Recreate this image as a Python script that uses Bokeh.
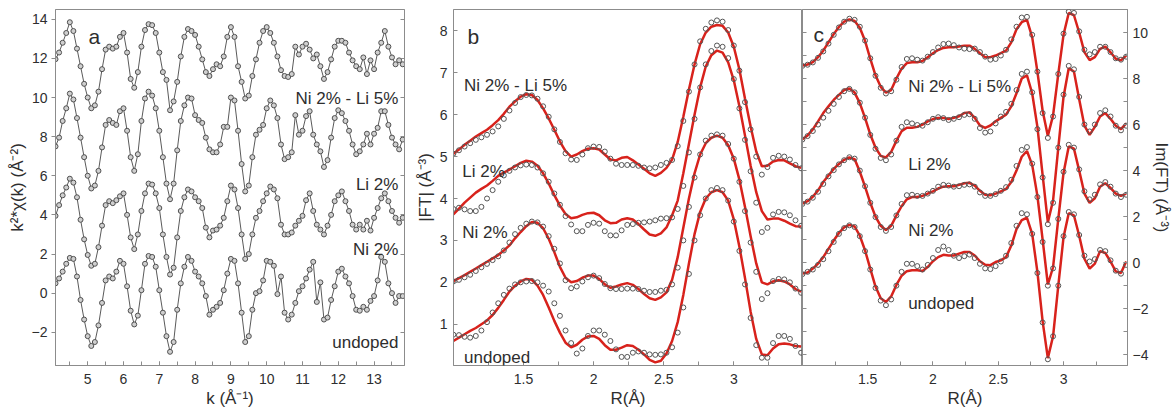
from bokeh.plotting import figure
from bokeh.models import LinearAxis, Range1d, SingleIntervalTicker, Label
from bokeh.layouts import row
from bokeh.embed import file_html
from bokeh.resources import INLINE

# ---------------- data: panel a (k^2 chi(k)) ----------------
K_A = [4.1, 4.2, 4.3, 4.4, 4.5, 4.6, 4.7, 4.8, 4.9, 5.0,
       5.1, 5.2, 5.3, 5.4, 5.5, 5.6, 5.7, 5.8, 5.9, 6.0,
       6.1, 6.2, 6.3, 6.4, 6.5, 6.6, 6.7, 6.8, 6.9, 7.0,
       7.1, 7.2, 7.3, 7.4, 7.5, 7.6, 7.7, 7.8, 7.9, 8.0,
       8.1, 8.2, 8.3, 8.4, 8.5, 8.6, 8.7, 8.8, 8.9, 9.0,
       9.1, 9.2, 9.3, 9.4, 9.5, 9.6, 9.7, 9.8, 9.9, 10.0,
       10.1, 10.2, 10.3, 10.4, 10.5, 10.6, 10.7, 10.8, 10.9, 11.0,
       11.1, 11.2, 11.3, 11.4, 11.5, 11.6, 11.7, 11.8, 11.9, 12.0,
       12.1, 12.2, 12.3, 12.4, 12.5, 12.6, 12.7, 12.8, 12.9, 13.0,
       13.1, 13.2, 13.3, 13.4, 13.5, 13.6, 13.7, 13.8]

A_NILI = [11.96, 12.3, 12.8, 13.3, 13.85, 13.4, 12.5, 11.6, 10.7, 10.0,
          9.45, 9.6, 10.3, 11.45, 12.45, 12.6, 12.5, 12.6, 13.1, 13.3,
          12.3, 10.95, 10.5, 11.3, 12.6, 13.45, 13.75, 13.7, 13.3, 12.3,
          11.3, 10.9, 9.35, 9.8, 10.8, 12.1, 13.1, 13.5, 13.4, 13.2,
          12.6, 11.95, 11.3, 11.1, 11.45, 11.7, 11.6, 12.1, 13.1, 13.6,
          13.1, 11.6, 10.8, 9.95, 10.1, 11.1, 11.95, 12.8, 13.4, 13.6,
          13.3, 12.8, 12.1, 11.4, 11.1, 11.05, 11.2, 12.6, 12.2, 12.6,
          12.75, 12.45, 12.0, 12.2, 11.6, 10.95, 11.3, 11.95, 12.6, 12.9,
          12.9, 12.8, 12.3, 11.9, 11.6, 11.45, 12.05, 11.2, 11.9, 11.45,
          12.3, 12.8, 13.4, 12.6, 12.05, 11.7, 11.9, 11.7]

A_LI = [7.5, 7.95, 8.8, 9.45, 10.2, 9.9, 8.95, 7.95, 6.95, 6.0,
        5.35, 5.5, 6.25, 7.45, 8.6, 8.85, 8.7, 8.6, 9.3, 9.45,
        8.3, 6.95, 6.25, 7.1, 8.8, 9.95, 10.3, 10.1, 9.45, 8.3,
        6.95, 5.6, 4.8, 5.6, 7.3, 8.8, 9.6, 10.0, 9.95, 9.1,
        8.85, 8.7, 7.95, 7.35, 7.2, 7.2, 7.6, 8.5, 8.5, 10.0,
        9.85, 8.3, 6.6, 5.2, 5.5, 6.95, 8.1, 8.35, 8.6, 9.45,
        9.85, 9.6, 8.95, 7.6, 6.85, 6.95, 7.2, 9.1, 8.1, 8.3,
        9.05, 9.3, 8.1, 7.6, 7.25, 6.45, 6.8, 7.95, 8.95, 9.35,
        9.2, 8.8, 8.3, 7.6, 7.1, 7.25, 7.6, 8.15, 7.6, 8.15,
        8.45, 9.3, 9.3, 8.6, 7.95, 7.6, 7.35, 7.85]

A_NI = [3.95, 4.5, 5.0, 5.4, 5.85, 5.65, 4.9, 3.75, 2.75, 1.95,
        1.4, 1.5, 2.35, 3.45, 4.5, 4.7, 4.6, 4.75, 4.95, 5.1,
        4.0, 2.85, 2.25, 3.0, 4.2, 5.1, 5.6, 5.55, 5.1, 4.35,
        3.0, 1.85, 0.95, 1.3, 2.85, 4.2, 4.9, 5.3, 5.2, 4.9,
        4.7, 4.35, 3.35, 2.85, 3.2, 3.25, 3.45, 3.85, 4.7, 5.5,
        5.3, 4.35, 3.0, 1.75, 2.0, 3.0, 3.85, 4.2, 4.7, 5.1,
        5.45, 5.3, 4.85, 3.5, 3.0, 3.0, 3.1, 3.45, 3.7, 3.95,
        4.75, 5.1, 4.2, 3.5, 3.25, 3.0, 3.45, 4.0, 4.7, 5.0,
        5.2, 4.7, 4.2, 3.5, 3.25, 3.5, 3.25, 3.7, 3.2, 3.85,
        4.35, 4.85, 5.1, 4.7, 4.2, 3.85, 3.6, 3.85]

A_UN = [0.5, 0.75, 1.1, 1.5, 1.8, 1.75, 0.85, -0.35, -1.35, -2.2,
        -2.7, -2.5, -1.65, -0.5, 0.65, 0.85, 0.75, 1.1, 1.65, 1.5,
        0.35, -0.9, -1.6, -1.15, 0.15, 1.5, 1.9, 1.85, 1.35, 0.15,
        -1.0, -2.2, -3.0, -2.5, -0.85, 0.5, 1.35, 1.85, 1.65, 1.1,
        0.85, 0.5, -0.15, -1.1, -0.85, -0.7, -0.5, 0.15, 1.0, 1.75,
        1.65, 0.5, -1.0, -2.5, -2.2, -0.85, 0.0, 0.1, 0.65, 1.65,
        1.6, 1.4, -0.05, 0.85, -1.0, -1.35, -1.1, -0.5, 0.1, 0.35,
        0.75, 1.2, 1.6, -0.45, 0.55, -1.35, -1.25, -0.35, 0.35, 1.1,
        1.25, 0.85, 0.5, -0.15, -0.85, -0.9, -0.7, -0.85, -0.4, -0.15,
        0.65, 1.85, 1.6, 0.5, 0.0, -0.5, -0.15, -0.15]

# ---------------- data: panels b and c (R grid) ----------------
R = [1.00, 1.04, 1.08, 1.12, 1.16, 1.20, 1.24, 1.28, 1.32, 1.36,
     1.40, 1.44, 1.48, 1.52, 1.56, 1.60, 1.64, 1.68, 1.72, 1.76,
     1.80, 1.84, 1.88, 1.92, 1.96, 2.00, 2.04, 2.08, 2.12, 2.16,
     2.20, 2.24, 2.28, 2.32, 2.36, 2.40, 2.44, 2.48, 2.52, 2.56,
     2.60, 2.64, 2.68, 2.72, 2.76, 2.80, 2.84, 2.88, 2.92, 2.96,
     3.00, 3.04, 3.08, 3.12, 3.16, 3.20, 3.24, 3.28, 3.32, 3.36,
     3.40, 3.44, 3.48]

# |FT| (panel b): fits and data
B_NILI_FIT = [5.07, 5.17, 5.28, 5.38, 5.48, 5.56, 5.64, 5.75, 5.87, 6.02,
              6.19, 6.32, 6.43, 6.49, 6.47, 6.35, 6.15, 5.91, 5.64, 5.36,
              5.13, 5.0, 5.05, 5.13, 5.19, 5.2, 5.17, 5.05, 4.93, 4.91,
              4.97, 4.99, 4.91, 4.81, 4.71, 4.6, 4.54, 4.61, 4.73, 4.93,
              5.35, 5.95, 6.6, 7.2, 7.68, 7.96, 8.1, 8.14, 8.12, 7.96,
              7.62, 7.08, 6.38, 5.72, 5.12, 4.77, 4.78, 4.88, 4.92, 4.91,
              4.84, 4.77, 4.73]
B_NILI_DAT = [5.07, 5.15, 5.24, 5.32, 5.4, 5.46, 5.52, 5.6, 5.72, 5.9,
              6.1, 6.28, 6.42, 6.47, 6.46, 6.38, 6.2, 5.95, 5.65, 5.35,
              5.08, 4.93, 4.92, 5.05, 5.2, 5.24, 5.23, 5.12, 4.95, 4.83,
              4.8, 4.8, 4.8, 4.78, 4.74, 4.72, 4.74, 4.8, 4.85, 4.92,
              5.25, 5.85, 6.55, 7.2, 7.75, 8.05, 8.2, 8.25, 8.22, 8.02,
              7.65, 7.05, 6.3, 5.65, 5.0, 4.57, 4.75, 4.97, 5.02, 5.0,
              4.93, 4.8, 4.72]
B_LI_FIT = [3.62, 3.76, 3.9, 4.02, 4.14, 4.23, 4.31, 4.42, 4.54, 4.62,
            4.69, 4.77, 4.85, 4.9, 4.88, 4.78, 4.6, 4.36, 4.08, 3.83,
            3.63, 3.53, 3.55, 3.61, 3.65, 3.66, 3.6, 3.48, 3.41, 3.42,
            3.5, 3.53, 3.5, 3.39, 3.26, 3.14, 3.11, 3.17, 3.31, 3.6,
            3.95, 4.6, 5.3, 6.0, 6.65, 7.15, 7.42, 7.53, 7.48, 7.25,
            6.82, 6.2, 5.5, 4.78, 4.15, 3.7, 3.5, 3.52, 3.52, 3.47,
            3.4, 3.34, 3.33]
B_LI_DAT = [3.75, 3.78, 3.74, 3.7, 3.7, 3.8, 4.0, 4.2, 4.4, 4.55,
            4.66, 4.74, 4.79, 4.81, 4.8, 4.74, 4.6, 4.4, 4.12, 3.85,
            3.58, 3.38, 3.22, 3.22, 3.37, 3.42, 3.4, 3.22, 3.12, 3.12,
            3.24, 3.37, 3.39, 3.42, 3.43, 3.45, 3.48, 3.52, 3.53, 3.55,
            3.75, 4.3, 5.1, 5.9, 6.65, 7.2, 7.52, 7.65, 7.62, 7.35,
            6.85, 6.15, 5.4, 4.65, 3.9, 3.2, 3.3, 3.62, 3.68, 3.67,
            3.6, 3.48, 3.35]
B_NI_FIT = [2.03, 2.1, 2.17, 2.25, 2.33, 2.41, 2.49, 2.57, 2.65, 2.76,
            2.88, 3.05, 3.2, 3.34, 3.44, 3.42, 3.29, 3.04, 2.72, 2.37,
            2.11, 2.0, 2.03, 2.11, 2.16, 2.16, 2.08, 1.95, 1.87, 1.9,
            1.95, 1.98, 1.94, 1.84, 1.72, 1.62, 1.58, 1.64, 1.76, 2.06,
            2.6, 3.3, 4.0, 4.6, 5.05, 5.32, 5.45, 5.5, 5.45, 5.27,
            4.95, 4.45, 3.8, 3.1, 2.45, 2.0, 1.95, 2.02, 2.05, 2.02,
            1.95, 1.84, 1.78]
B_NI_DAT = [2.02, 2.06, 2.12, 2.18, 2.27, 2.36, 2.44, 2.53, 2.62, 2.76,
            2.95, 3.15, 3.3, 3.4, 3.45, 3.43, 3.33, 3.1, 2.8, 2.45,
            2.05, 1.86, 1.9, 2.02, 2.12, 2.16, 2.1, 1.96, 1.86, 1.84,
            1.84, 1.85, 1.85, 1.84, 1.8, 1.77, 1.77, 1.8, 1.82, 1.95,
            2.35, 3.0, 3.8, 4.5, 5.05, 5.38, 5.5, 5.53, 5.5, 5.3,
            4.95, 4.4, 3.7, 2.95, 2.25, 1.6, 1.74, 2.03, 2.08, 2.07,
            2.0, 1.85, 1.75]
B_UN_FIT = [0.6, 0.68, 0.76, 0.84, 0.91, 1.0, 1.09, 1.22, 1.39, 1.58,
            1.78, 1.92, 2.02, 2.08, 2.06, 1.92, 1.7, 1.4, 1.08, 0.8,
            0.56, 0.45, 0.51, 0.63, 0.71, 0.72, 0.65, 0.5, 0.39, 0.39,
            0.44, 0.5, 0.48, 0.39, 0.28, 0.15, 0.09, 0.13, 0.3, 0.6,
            1.05, 1.7, 2.45, 3.15, 3.68, 4.0, 4.15, 4.2, 4.15, 3.95,
            3.5, 2.85, 2.1, 1.3, 0.65, 0.28, 0.26, 0.42, 0.52, 0.54,
            0.52, 0.48, 0.47]
B_UN_DAT = [0.75, 0.74, 0.7, 0.68, 0.72, 0.85, 1.05, 1.28, 1.5, 1.7,
            1.85, 1.95, 2.0, 2.02, 2.03, 2.0, 1.92, 1.78, 1.5, 1.2,
            0.85, 0.55, 0.3, 0.42, 0.72, 0.85, 0.85, 0.75, 0.6, 0.4,
            0.22, 0.22, 0.32, 0.35, 0.32, 0.28, 0.27, 0.28, 0.32, 0.45,
            0.8, 1.4, 2.2, 3.0, 3.6, 4.0, 4.2, 4.25, 4.2, 3.95,
            3.45, 2.75, 1.95, 1.15, 0.5, 0.2, 0.2, 0.55, 0.72, 0.72,
            0.65, 0.48, 0.32]

# Im(FT) (panel c): fits and data
C_NILI_FIT = [8.57, 8.61, 8.71, 8.93, 9.21, 9.57, 9.93, 10.24, 10.47, 10.57,
              10.5, 10.21, 9.64, 8.86, 8.14, 7.64, 7.39, 7.5, 8.0, 8.43,
              8.67, 8.71, 8.71, 8.76, 8.93, 9.1, 9.24, 9.33, 9.36, 9.36,
              9.39, 9.43, 9.43, 9.29, 9.1, 8.93, 8.93, 9.0, 9.1, 9.21,
              9.57, 10.14, 10.45, 10.55, 9.8, 8.3, 6.6, 5.5, 6.4, 8.2,
              9.9, 10.85, 10.75, 10.0, 9.15, 8.8, 8.93, 9.29, 9.39, 9.14,
              8.86, 8.79, 9.0]
C_NILI_DAT = [8.55, 8.6, 8.7, 8.9, 9.18, 9.52, 9.9, 10.22, 10.47, 10.6,
              10.55, 10.25, 9.65, 8.88, 8.12, 7.6, 7.35, 7.45, 7.95, 8.5,
              8.85, 8.88, 8.82, 8.78, 8.95, 9.15, 9.35, 9.5, 9.52, 9.45,
              9.35, 9.3, 9.28, 9.3, 9.15, 8.95, 8.82, 8.85, 9.0, 9.25,
              9.7, 10.25, 10.65, 10.68, 9.9, 8.3, 6.5, 5.42, 6.35, 8.2,
              9.95, 10.9, 10.85, 10.05, 9.25, 9.05, 9.15, 9.38, 9.38, 9.15,
              8.88, 8.82, 8.95]
C_LI_FIT = [5.36, 5.53, 5.79, 6.14, 6.5, 6.79, 7.07, 7.29, 7.5, 7.57,
            7.39, 6.93, 6.29, 5.57, 5.0, 4.64, 4.57, 4.81, 5.29, 5.71,
            5.86, 5.86, 5.9, 6.0, 6.14, 6.24, 6.29, 6.29, 6.24, 6.29,
            6.36, 6.5, 6.53, 6.29, 5.96, 5.86, 5.96, 6.14, 6.29, 6.43,
            6.79, 7.36, 8.0, 8.14, 7.36, 5.9, 3.8, 1.75, 2.7, 5.0,
            7.2, 8.45, 8.3, 7.1, 5.95, 5.55, 5.9, 6.35, 6.5, 6.25,
            5.95, 5.8, 6.05]
C_LI_DAT = [5.35, 5.5, 5.72, 6.0, 6.3, 6.6, 6.9, 7.2, 7.45, 7.55,
            7.4, 6.95, 6.3, 5.55, 4.95, 4.55, 4.45, 4.7, 5.3, 5.9,
            6.1, 6.05, 5.98, 5.95, 6.1, 6.25, 6.32, 6.28, 6.2, 6.25,
            6.32, 6.42, 6.45, 6.25, 5.85, 5.65, 5.7, 6.05, 6.35, 6.55,
            6.9, 7.5, 8.2, 8.3, 7.4, 5.8, 3.7, 1.67, 2.6, 5.0,
            7.3, 8.55, 8.4, 7.2, 6.0, 5.7, 6.0, 6.5, 6.62, 6.35,
            5.95, 5.75, 5.95]
C_NI_FIT = [2.57, 2.67, 2.86, 3.14, 3.5, 3.79, 4.07, 4.29, 4.47, 4.57,
            4.5, 3.95, 3.3, 2.6, 2.0, 1.6, 1.42, 1.6, 2.05, 2.45,
            2.75, 2.85, 2.85, 2.9, 3.0, 3.1, 3.22, 3.3, 3.32, 3.32,
            3.38, 3.45, 3.47, 3.35, 3.12, 2.95, 2.93, 3.0, 3.1, 3.2,
            3.5, 4.0, 4.6, 4.85, 4.25, 2.9, 1.0, -0.95, -0.2, 1.9,
            3.9, 5.05, 4.95, 4.0, 3.0, 2.6, 2.8, 3.3, 3.45, 3.25,
            3.0, 2.9, 3.0]
C_NI_DAT = [2.55, 2.65, 2.82, 3.08, 3.42, 3.75, 4.02, 4.27, 4.45, 4.58,
            4.52, 4.0, 3.32, 2.6, 1.98, 1.55, 1.38, 1.55, 2.05, 2.55,
            2.93, 2.95, 2.9, 2.9, 3.0, 3.12, 3.3, 3.38, 3.35, 3.3,
            3.32, 3.38, 3.4, 3.3, 3.05, 2.9, 2.9, 2.98, 3.12, 3.28,
            3.6, 4.2, 4.9, 5.02, 4.3, 2.85, 0.9, -1.0, -0.25, 1.9,
            3.95, 5.12, 5.0, 4.05, 3.1, 2.75, 2.95, 3.4, 3.5, 3.3,
            3.0, 2.85, 2.95]
C_UN_FIT = [-0.47, -0.43, -0.26, -0.04, 0.24, 0.6, 0.96, 1.29, 1.53, 1.64,
            1.57, 1.17, 0.53, -0.26, -1.04, -1.55, -1.71, -1.47, -0.97, -0.57,
            -0.37, -0.33, -0.33, -0.36, -0.19, 0.06, 0.24, 0.34, 0.31, 0.31,
            0.39, 0.46, 0.46, 0.31, 0.06, -0.09, -0.11, 0.03, 0.1, 0.24,
            0.74, 1.46, 1.85, 1.95, 1.25, -0.4, -2.55, -4.15, -3.2, -1.0,
            1.1, 2.15, 2.05, 1.17, 0.17, -0.26, -0.04, 0.5, 0.42, 0.05,
            -0.38, -0.45, 0.05]
C_UN_DAT = [-0.5, -0.4, -0.3, -0.1, 0.15, 0.5, 0.9, 1.25, 1.5, 1.62,
            1.55, 1.15, 0.5, -0.3, -1.1, -1.65, -1.85, -1.6, -1.0, -0.4,
            -0.05, -0.05, -0.15, -0.3, -0.1, 0.2, 0.55, 0.7, 0.55, 0.3,
            0.2, 0.28, 0.35, 0.2, -0.05, -0.25, -0.28, -0.15, 0.05, 0.3,
            0.85, 1.6, 2.15, 2.1, 1.25, -0.45, -2.6, -4.2, -3.2, -1.0,
            1.15, 2.2, 2.1, 1.2, 0.3, 0.05, 0.15, 0.55, 0.5, 0.1,
            -0.35, -0.48, -0.1]

SERIES_NAMES = ["Ni 2% - Li 5%", "Li 2%", "Ni 2%", "undoped"]

# ---------------- style ----------------
FONT = "Liberation Sans"
AXC = "#8c8c8c"
TXT = "#2e2e2e"
RED = "#d8221c"
TICK_FS = "14px"
LAB_FS = "17px"
NAME_FS = "17px"


def base(width, height, xr, yr, mbl, mbr, mbt, mbb, y_loc="left"):
    p = figure(width=width, height=height, x_range=Range1d(*xr), y_range=Range1d(*yr),
               output_backend="svg", toolbar_location=None,
               min_border_left=mbl, min_border_right=mbr,
               min_border_top=mbt, min_border_bottom=mbb,
               y_axis_location=y_loc)
    p.grid.visible = False
    p.outline_line_color = AXC
    p.outline_line_width = 1
    p.background_fill_color = "white"
    p.border_fill_color = "white"
    return p


def style(ax, tin, tout, min_in=0, min_out=0, labels=True, standoff=4):
    ax.axis_line_color = AXC
    ax.major_tick_line_color = AXC
    ax.minor_tick_line_color = AXC
    ax.major_tick_in = tin
    ax.major_tick_out = tout
    ax.minor_tick_in = min_in
    ax.minor_tick_out = min_out
    ax.major_label_text_font = FONT
    if labels:
        ax.major_label_text_color = TXT
        ax.major_label_text_font_size = TICK_FS
        ax.major_label_standoff = standoff
    else:
        ax.major_label_text_color = None
        ax.major_label_text_font_size = "1px"
        ax.major_label_standoff = 0
    ax.axis_label_text_font = FONT
    ax.axis_label_text_font_size = LAB_FS
    ax.axis_label_text_font_style = "normal"
    ax.axis_label_text_color = TXT
    ax.axis_label_standoff = 2


def name_label(p, x, y, text, align="left", size=NAME_FS):
    p.add_layout(Label(x=x, y=y, text=text, text_font=FONT, text_font_size=size,
                       text_color=TXT, text_align=align, text_baseline="alphabetic"))


# ---------------- panel a ----------------
pa = base(410, 416, (4.1, 13.85), (-3.7, 14.5), 55, 6, 9, 46)
pa.xaxis.axis_label = "k (Å⁻¹)"
pa.yaxis.axis_label = "k²*χ(k) (Å⁻²)"
pa.xaxis.ticker = SingleIntervalTicker(interval=1, num_minor_ticks=2)
pa.yaxis.ticker = SingleIntervalTicker(interval=2, num_minor_ticks=0)
style(pa.xaxis[0], 4, 0, 4, 0, standoff=8)
style(pa.yaxis[0], 0, 4, standoff=4)
ra = LinearAxis(ticker=SingleIntervalTicker(interval=2, num_minor_ticks=0))
style(ra, 4, 0, labels=False)
pa.add_layout(ra, "right")

for ys in [A_NILI, A_LI, A_NI, A_UN]:
    pa.line(K_A, ys, line_color="#5a5a5a", line_width=1)
    pa.scatter(K_A, ys, marker="circle", size=5, line_color="#505050",
               fill_color="#cfcfcf", line_width=1)

name_label(pa, 5.02, 13.1, "a", size="21px")
for (yy, nm) in zip([9.95, 5.55, 2.25, -2.53], SERIES_NAMES):
    name_label(pa, 13.68, yy, nm, align="right")

# ---------------- panel b ----------------
pb = base(392, 416, (1.001, 3.49), (0.015, 8.51), 43, 0, 5, 51)
pb.xaxis.axis_label = "R(Å)"
pb.yaxis.axis_label = "|FT| (Å⁻³)"
pb.xaxis.ticker = SingleIntervalTicker(interval=0.5, num_minor_ticks=2)
pb.yaxis.ticker = SingleIntervalTicker(interval=1, num_minor_ticks=0)
style(pb.xaxis[0], 4, 0, 4, 0, standoff=8)
style(pb.yaxis[0], 4, 0, standoff=6)

for fit, dat in [(B_NILI_FIT, B_NILI_DAT), (B_LI_FIT, B_LI_DAT),
                 (B_NI_FIT, B_NI_DAT), (B_UN_FIT, B_UN_DAT)]:
    pb.line(R, fit, line_color=RED, line_width=2.5)
    pb.scatter(R, dat, marker="circle", size=5, line_color="#555555",
               fill_alpha=0, line_width=1)

name_label(pb, 1.10, 7.87, "b", size="21px")
for (xx, yy, nm) in zip([1.076, 1.064, 1.064, 1.076], [6.70, 4.65, 3.18, 0.21], SERIES_NAMES):
    name_label(pb, xx, yy, nm)

# ---------------- panel c ----------------
pc = base(372, 416, (1.001, 3.49), (-4.47, 11.0), 0, 42, 5, 51, y_loc="right")
pc.xaxis.axis_label = "R(Å)"
pc.yaxis.axis_label = "Im(FT) (Å⁻³)"
pc.xaxis.ticker = SingleIntervalTicker(interval=0.5, num_minor_ticks=2)
pc.yaxis.ticker = SingleIntervalTicker(interval=2, num_minor_ticks=2)
style(pc.xaxis[0], 4, 0, 4, 0, standoff=8)
style(pc.yaxis[0], 4, 0, 4, 0, standoff=5)
pc.yaxis[0].axis_label_standoff = 1
lc = LinearAxis(ticker=SingleIntervalTicker(interval=1, num_minor_ticks=0))
style(lc, 4, 0, labels=False)
pc.add_layout(lc, "left")

for fit, dat in [(C_NILI_FIT, C_NILI_DAT), (C_LI_FIT, C_LI_DAT),
                 (C_NI_FIT, C_NI_DAT), (C_UN_FIT, C_UN_DAT)]:
    pc.line(R, fit, line_color=RED, line_width=2.5)
    pc.scatter(R, dat, marker="circle", size=5, line_color="#555555",
               fill_alpha=0, line_width=1)

name_label(pc, 1.085, 9.93, "c", size="21px")
for (yy, nm) in zip([7.64, 4.27, 1.39, -1.76], SERIES_NAMES):
    name_label(pc, 1.81, yy, nm)

layout = row(pa, pb, pc)
open("out.html", "w").write(file_html(layout, INLINE))
